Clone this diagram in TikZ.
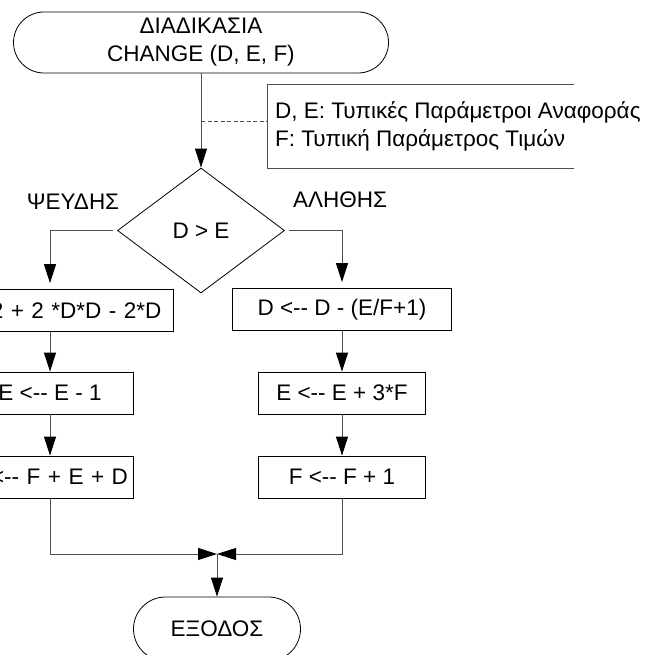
\documentclass[tikz,border=0pt]{standalone}
\usepackage{fontspec}
\setmainfont{Liberation Sans}
\usetikzlibrary{shapes.geometric,shapes.misc,arrows.meta}
\definecolor{linegray}{RGB}{80,80,80}
\begin{document}
\begin{tikzpicture}[x=1pt,y=-1pt,
  every node/.style={font=\fontsize{22.5}{28}\selectfont, text=black},
  shp/.style={draw=black, line width=0.8pt},
  procbox/.style={shp, rectangle, minimum height=42pt, inner sep=0pt},
  conn/.style={draw=linegray, line width=1pt},
  arr/.style={conn, -{Triangle[length=19pt,width=12pt,color=black]}},
  cmttext/.style={anchor=base west, inner sep=0pt},
]
\useasboundingbox (0,0) rectangle (670,655);

% terminators and decision
\node[shp, rounded rectangle, minimum width=375pt, minimum height=61pt, inner sep=0pt, align=center] (start) at (201,42.5) {ΔΙΑΔΙΚΑΣΙΑ\\CHANGE (D, E, F)};
\node[shp, diamond, minimum width=167pt, minimum height=125pt, inner sep=0pt] (dec) at (201,230.5) {D > E};
\node[shp, rounded rectangle, minimum width=167pt, minimum height=64pt, inner sep=0pt] (stop) at (217,629) {ΕΞΟΔΟΣ};

% comment
\node[cmttext] (cmt1) at (275,119) {D, E: Τυπικές Παράμετροι Αναφοράς};
\node[cmttext] (cmt2) at (275,147) {F: Τυπική Παράμετρος Τιμών};
\coordinate (bt) at (574,85);
\coordinate (btl) at (267,85);
\coordinate (bbl) at (267,169);
\coordinate (bb) at (574,169);
\coordinate (bm) at (267,122);
\coordinate (dj) at (201,122);
\draw[conn] (bt) -- (btl) -- (bbl) -- (bb);
\draw[conn, dash pattern=on 4pt off 2.5pt] (dj) -- (bm);

% branch labels
\node (no) at (73,202) {ΨΕΥΔΗΣ};
\node (yes) at (340,200) {ΑΛΗΘΗΣ};

% left branch
\node[procbox, minimum width=247pt, text width=223pt, inner xsep=12pt, align=right] (l1) at (50,310.5) {2 + 2 *D*D -{} 2*D};
\node[procbox, minimum width=166pt] (l2) at (50,393) {E <-{}- E -{} 1};
\node[procbox, minimum width=166pt, text width=156pt, inner xsep=5pt, align=right] (l3) at (50,477) {<-{}- F + E + D};

% right branch
\node[procbox, minimum width=219pt] (r1) at (342,309.5) {D <-{}- D -{} (E/F+1)};
\node[procbox, minimum width=167pt] (r2) at (342,393) {E <-{}- E + 3*F};
\node[procbox, minimum width=167pt] (r3) at (342,477) {F <-{}- F + 1};

\coordinate (m) at (217,554);

% connectors
\draw[arr] (start.south) -- (dec.north);
\draw[arr, shorten >=6pt] ([xshift=-4pt]dec.west) -| (l1.north);
\draw[arr, shorten >=6pt] ([xshift=4pt]dec.east) -| (r1.north);
\draw[arr] (l1) -- (l2);
\draw[arr] (l2) -- (l3);
\draw[arr] (r1) -- (r2);
\draw[arr] (r2) -- (r3);
\draw[arr] (l3.south) |- (m);
\draw[arr] (r3.south) |- (m);
\draw[arr] (m) -- (stop.north);
\end{tikzpicture}
\end{document}
